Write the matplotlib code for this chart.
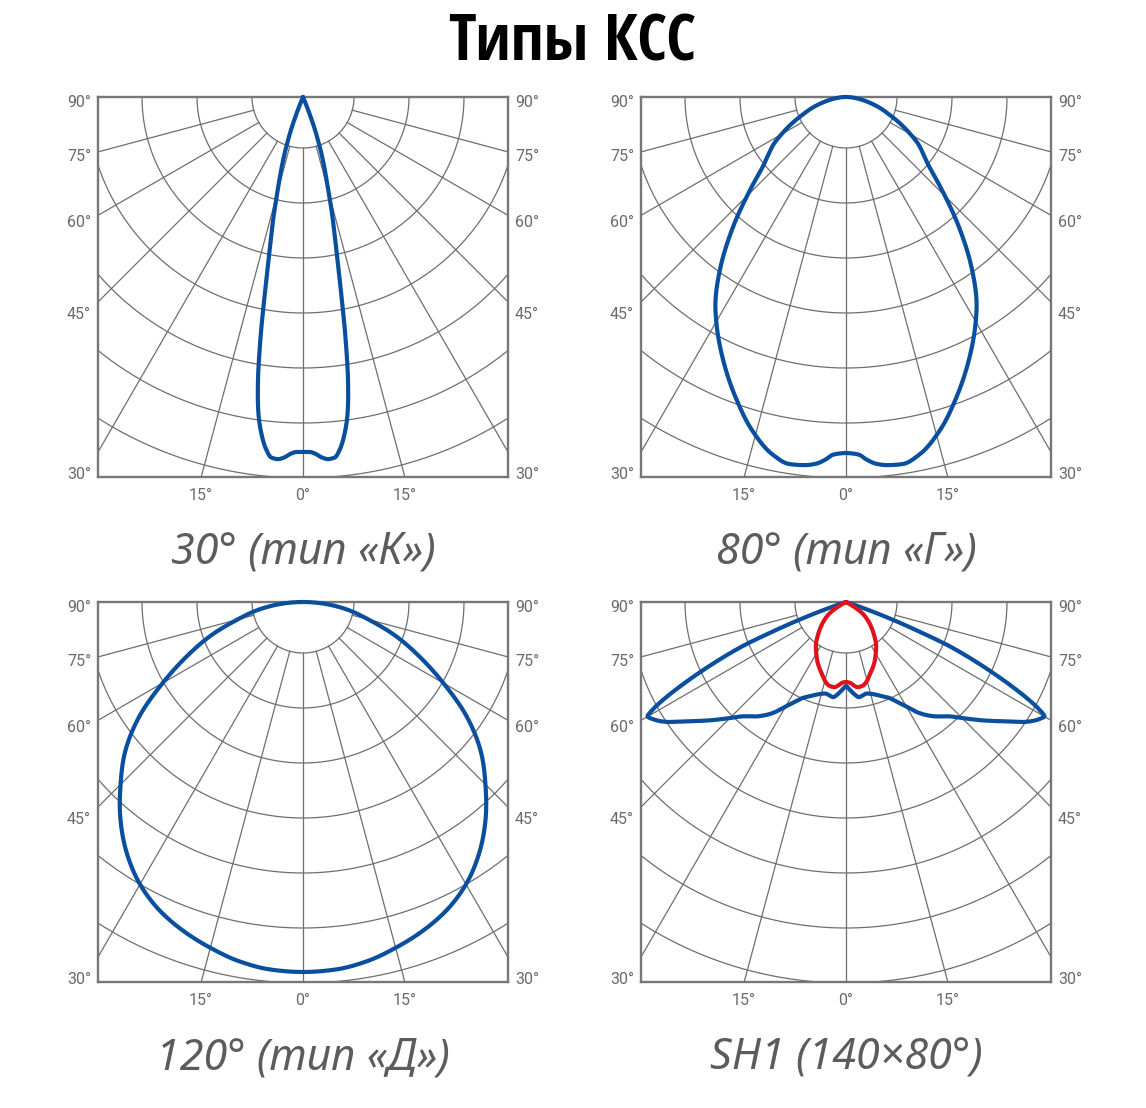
import numpy as np
import matplotlib.pyplot as plt
from matplotlib import font_manager

W, H = 1146, 1108          # размер картинки, px
FW, FH = 410, 380          # размер рамки одной диаграммы, px

# ── КСС: угол от надира (град) и сила света (в единицах сетки) ─────────────
K_ANG = [0, 1, 2, 3, 4, 5, 6, 7, 8, 9, 10, 11, 12, 13, 14, 15, 16, 17, 18, 19, 20, 21, 22, 23]
K_VAL = [355, 355, 357, 361, 363, 362, 354, 340, 320, 288, 245, 200, 165, 140, 120, 100,
         85, 72, 60, 47, 36, 22, 10, 0]

G_ANG = [0, 1, 2.1, 3.2, 4.7, 6.5, 8.8, 11.6, 15.6, 20.1, 25.3, 29.6, 32.5, 36.7, 40.9,
         45.7, 50.4, 54, 57, 60.4, 64, 67.8, 72, 77.9, 84, 90]
G_VAL = [356, 356.5, 358, 363, 368, 370.5, 371.4, 365, 347, 320.5, 288.7, 262, 243, 209, 173,
         135, 107, 95, 86, 73, 60, 47, 36, 21, 9, 0]

D_ANG = [0, 5, 10, 15, 20, 25, 30, 35, 40, 45, 50, 55, 60, 65, 70, 75, 80, 85, 90]
D_VAL = [370, 369, 365, 358, 350, 340, 326, 307, 284, 258, 232, 200, 162, 128, 98, 68, 46, 23, 0]

SH1_ANG = [0, 2, 4.2, 8, 10, 12.3, 15, 17.9, 21, 24.3, 27, 29.9, 33.4, 37.5, 42.1, 45.5,
           49.1, 52.1, 54.5, 56.1, 57.4, 58.8, 60, 61, 62, 63, 64, 65, 66, 67, 68, 69, 70, 71, 72]
SH1_VAL = [84, 87, 91, 96, 95, 93.8, 95, 97.4, 101, 105.3, 112, 120.3, 133, 144, 154.1, 166,
           180.8, 194, 206, 215, 221, 226, 229, 220, 205, 187, 168, 149, 130, 110, 80, 55, 32,
           12, 0]

SH1N_ANG = [0, 3, 5, 8, 11, 13, 15, 18, 21, 25, 30, 35, 40, 45, 50, 55, 58, 60, 62]
SH1N_VAL = [80, 81, 83.5, 86, 85.5, 84, 81.5, 76.5, 72.5, 67, 59.5, 52.5, 44, 36, 28.5, 20.5,
            13, 6, 0]

SUBTITLES = ['30° (тип «К»)', '80° (тип «Г»)', '120° (тип «Д»)', 'SH1 (140×80°)']
SIDE_LABELS = ['90°', '75°', '60°', '45°', '30°']
BOTTOM_LABELS = ['15°', '0°', '15°']

BLUE = '#0a4f9e'
RED = '#e0121c'
GRID = '#6e6e6e'
FRAME = '#777777'
TXT = '#5c5c5c'

installed = {f.name for f in font_manager.fontManager.ttflist}
TITLE_FONT = next((n for n in ['Liberation Sans Narrow', 'Open Sans Condensed', 'Roboto Condensed',
                               'DejaVu Sans Condensed', 'Liberation Sans'] if n in installed),
                  'DejaVu Sans')


def pchip(x, y, xn):
    x = np.asarray(x, float)
    y = np.asarray(y, float)
    h = np.diff(x)
    d = np.diff(y) / h
    m = np.zeros_like(y)
    for k in range(1, len(x) - 1):
        if d[k - 1] * d[k] > 0:
            w1 = 2 * h[k] + h[k - 1]
            w2 = h[k] + 2 * h[k - 1]
            m[k] = (w1 + w2) / (w1 / d[k - 1] + w2 / d[k])
    m[0], m[-1] = d[0], d[-1]
    i = np.clip(np.searchsorted(x, xn) - 1, 0, len(h) - 1)
    t = (xn - x[i]) / h[i]
    return ((2 * t**3 - 3 * t**2 + 1) * y[i] + (t**3 - 2 * t**2 + t) * h[i] * m[i]
            + (-2 * t**3 + 3 * t**2) * y[i + 1] + (t**3 - t**2) * h[i] * m[i + 1])


def draw_curve(ax, ang, val, color):
    ang = np.asarray(ang, float)
    val = np.asarray(val, float)
    full_a = np.concatenate([-ang[:0:-1], ang])
    full_v = np.concatenate([val[:0:-1], val])
    th = np.linspace(full_a[0], full_a[-1], 1500)
    r = np.clip(pchip(full_a, full_v, th), 0, None)
    t = np.radians(th)
    ax.plot(r * np.sin(t), -r * np.cos(t), color=color, lw=3.0,
            solid_capstyle='round', solid_joinstyle='round', clip_on=False, zorder=5)


def make_panel(left, top):
    ax = fig.add_axes([left / W, 1 - (top + FH) / H, FW / W, FH / H])
    ax.set_xlim(-FW / 2, FW / 2)
    ax.set_ylim(-FH, 0)

    # окружности сетки
    t = np.linspace(np.pi, 2 * np.pi, 400)
    for k in range(9):
        rr = 51 + 55 * k
        ax.plot(rr * np.cos(t), rr * np.sin(t), color=GRID, lw=0.9, zorder=1)
    # лучи через 15°
    for a in range(-75, 76, 15):
        s, c = np.sin(np.radians(a)), np.cos(np.radians(a))
        ax.plot([51 * s, 700 * s], [-51 * c, -700 * c], color=GRID, lw=0.9, zorder=1)

    for sp in ax.spines.values():
        sp.set_color(FRAME)
        sp.set_linewidth(1.7)

    ax.set_yticks([-4, -58, -124, -216, -376])
    ax.set_yticklabels(SIDE_LABELS)
    bx = FH * np.tan(np.radians(15))
    ax.set_xticks([-bx, 0, bx])
    ax.set_xticklabels(BOTTOM_LABELS)
    ax.tick_params(length=0, labelsize=11.5, labelcolor='#6a6a6a',
                   left=False, right=False, labelleft=True, labelright=True)
    ax.tick_params(axis='y', pad=5)
    ax.tick_params(axis='x', pad=8)
    for lab in ax.get_xticklabels() + ax.get_yticklabels():
        lab.set_family(['Roboto', 'DejaVu Sans'])
    return ax


fig = plt.figure(figsize=(W / 100, H / 100), dpi=100)

fig.text(0.4995, 1 - 44 / H, 'Типы КСС', ha='center', va='center', fontsize=46,
         fontweight='bold', color='black', family=[TITLE_FONT, 'DejaVu Sans'])

frames = [(98, 97), (641, 97), (98, 602), (641, 602)]
curves = [[(K_ANG, K_VAL, BLUE)],
          [(G_ANG, G_VAL, BLUE)],
          [(D_ANG, D_VAL, BLUE)],
          [(SH1_ANG, SH1_VAL, BLUE), (SH1N_ANG, SH1N_VAL, RED)]]
sub_y = [552, 552, 1058, 1058]

for (left, top), cset, sub, sy in zip(frames, curves, SUBTITLES, sub_y):
    ax = make_panel(left, top)
    for ang, val, col in cset:
        draw_curve(ax, ang, val, col)
    fig.text((left + FW / 2) / W, 1 - sy / H, sub, ha='center', va='center',
             fontsize=31, style='italic', color=TXT, family=['Noto Sans', 'DejaVu Sans'])

fig.savefig('out.png', dpi=100)
